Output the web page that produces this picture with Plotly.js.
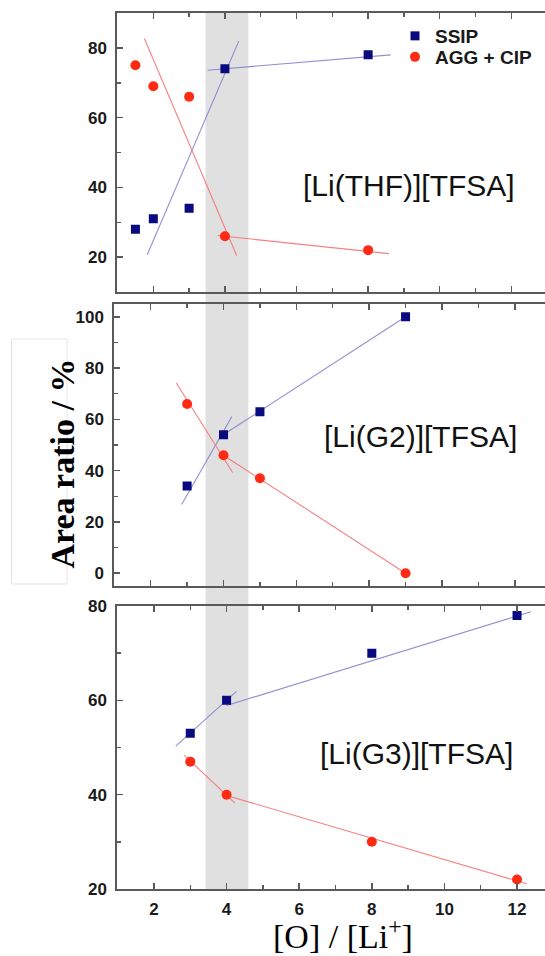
<!DOCTYPE html>
<html><head><meta charset="utf-8">
<script src="https://cdn.plot.ly/plotly-3.0.1.min.js"></script>
<style>html,body{margin:0;padding:0;background:#fff;}#chart{width:545px;height:956px;}</style>
</head><body><div id="chart"></div>
<script>
// ---- data ----
const thfX = [1.5, 2, 3, 4, 8];
const thfSSIP = [28, 31, 34, 74, 78];
const thfAGG = [75, 69, 66, 26, 22];
const g2X = [3, 4, 5, 9];
const g2SSIP = [34, 54, 63, 100];
const g2AGG = [66, 46, 37, 0];
const g3X = [3, 4, 8, 12];
const g3SSIP = [53, 60, 70, 78];
const g3AGG = [47, 40, 30, 22];
// fitted guide lines
const thfSsipFit1X = [1.83, 4.39], thfSsipFit1Y = [20.7, 82.0];
const thfSsipFit2X = [3.52, 8.63], thfSsipFit2Y = [73.6, 78.0];
const thfAggFit1X = [1.75, 4.33], thfAggFit1Y = [82.7, 20.4];
const thfAggFit2X = [3.80, 8.58], thfAggFit2Y = [26.2, 21.0];
const g2SsipFit1X = [2.85, 4.23], g2SsipFit1Y = [26.8, 61.1];
const g2SsipFit2X = [3.95, 9.0], g2SsipFit2Y = [53.6, 100];
const g2AggFit1X = [2.70, 4.25], g2AggFit1Y = [74.3, 39.3];
const g2AggFit2X = [3.90, 9.0], g2AggFit2Y = [46.9, 0];
const g3SsipFit1X = [2.60, 4.27], g3SsipFit1Y = [50.3, 61.9];
const g3SsipFit2X = [4.0, 12.38], g3SsipFit2Y = [58.9, 78.8];
const g3AggFit1X = [2.83, 4.23], g3AggFit1Y = [48.4, 38.2];
const g3AggFit2X = [3.88, 12.27], g3AggFit2Y = [40.1, 21.1];
const bandX = [3.42, 4.60];
const seriesNames = ['SSIP', 'AGG + CIP'];
const panelLabels = ['[Li(THF)][TFSA]', '[Li(G2)][TFSA]', '[Li(G3)][TFSA]'];

// ---- styling ----
const W = 545, H = 956;
const fx = p => p / W, fy = p => 1 - p / H;
const BLUE = '#0a0a80', RED = '#ff2a12';
const BLUEL = 'rgba(125,125,205,0.85)', REDL = 'rgba(245,115,115,0.9)';

function fit(x, y, xa, ya, c) {
  return {x, y, xaxis: xa, yaxis: ya, mode: 'lines', line: {color: c, width: 1.1}, showlegend: false, hoverinfo: 'skip'};
}
function pts(x, y, xa, ya, sym, c, name, leg) {
  const t = {x, y, xaxis: xa, yaxis: ya, mode: 'markers', name, showlegend: !!leg,
    marker: {symbol: sym, color: c, size: sym === 'square' ? 9 : 10, line: {width: 0}}};
  if (leg) t.legend = leg;
  return t;
}

const data = [
  fit(thfSsipFit1X, thfSsipFit1Y, 'x', 'y', BLUEL),
  fit(thfSsipFit2X, thfSsipFit2Y, 'x', 'y', BLUEL),
  fit(thfAggFit1X, thfAggFit1Y, 'x', 'y', REDL),
  fit(thfAggFit2X, thfAggFit2Y, 'x', 'y', REDL),
  fit(g2SsipFit1X, g2SsipFit1Y, 'x2', 'y2', BLUEL),
  fit(g2SsipFit2X, g2SsipFit2Y, 'x2', 'y2', BLUEL),
  fit(g2AggFit1X, g2AggFit1Y, 'x2', 'y2', REDL),
  fit(g2AggFit2X, g2AggFit2Y, 'x2', 'y2', REDL),
  fit(g3SsipFit1X, g3SsipFit1Y, 'x3', 'y3', BLUEL),
  fit(g3SsipFit2X, g3SsipFit2Y, 'x3', 'y3', BLUEL),
  fit(g3AggFit1X, g3AggFit1Y, 'x3', 'y3', REDL),
  fit(g3AggFit2X, g3AggFit2Y, 'x3', 'y3', REDL),
  pts(thfX, thfSSIP, 'x', 'y', 'square', BLUE, seriesNames[0], 'legend'),
  pts(thfX, thfAGG, 'x', 'y', 'circle', RED, seriesNames[1], 'legend2'),
  pts(g2X, g2SSIP, 'x2', 'y2', 'square', BLUE, seriesNames[0], null),
  pts(g2X, g2AGG, 'x2', 'y2', 'circle', RED, seriesNames[1], null),
  pts(g3X, g3SSIP, 'x3', 'y3', 'square', BLUE, seriesNames[0], null),
  pts(g3X, g3AGG, 'x3', 'y3', 'circle', RED, seriesNames[1], null),
];

const AX = '#5a5a5a';
const TF = {family: 'Arial, Liberation Sans, sans-serif', size: 17, color: '#1a1a1a', weight: 'bold'};
function xax(anchor, labels, left, range) {
  return {domain: [fx(left), 1], range, anchor, showgrid: false, zeroline: false,
    showline: true, linecolor: AX, linewidth: 2, mirror: 'ticks', ticks: 'inside', ticklen: 6, tickwidth: 1.5,
    tickcolor: AX, dtick: 2, tick0: 0, showticklabels: labels, tickfont: TF, ticklabelstandoff: 4,
    minor: {ticks: 'inside', ticklen: 4, tickwidth: 1.5, tickcolor: AX, dtick: 1, tick0: 0, showgrid: false}};
}
function yax(anchor, dom, range) {
  return {domain: dom, range, anchor, showgrid: false, zeroline: false,
    showline: true, linecolor: AX, linewidth: 2, mirror: false, ticks: 'inside', ticklen: 6, tickwidth: 1.5,
    tickcolor: AX, dtick: 20, tick0: 0, tickfont: TF, ticklabelstandoff: 5,
    minor: {ticks: 'inside', ticklen: 4, tickwidth: 1.5, tickcolor: AX, dtick: 10, tick0: 0, showgrid: false}};
}
const LEGF = {family: 'Arial, Liberation Sans, sans-serif', size: 19, color: '#1a1a1a', weight: 'bold'};
function leg(topPx) {
  return {x: fx(395), y: fy(topPx), xanchor: 'left', yanchor: 'top', bgcolor: 'rgba(0,0,0,0)',
    font: LEGF, itemwidth: 30};
}

const LBL = {family: 'Arial, Liberation Sans, sans-serif', size: 30, color: '#111'};
const layout = {
  width: W, height: H, margin: {l: 0, r: 0, t: 0, b: 0},
  paper_bgcolor: '#fff', plot_bgcolor: 'rgba(0,0,0,0)',
  xaxis: xax('y', false, 117.3, [0.994, 12.94]), yaxis: yax('x', [fy(292), fy(13)], [10, 90]),
  xaxis2: xax('y2', false, 114.3, [1.0, 12.83]), yaxis2: yax('x2', [fy(586), fy(304)], [-5, 105]),
  xaxis3: xax('y3', true, 117.3, [0.99, 12.77]), yaxis3: yax('x3', [fy(889), fy(606)], [20, 80]),
  showlegend: true,
  legend: leg(17), legend2: leg(38),
  shapes: [
    {type: 'rect', xref: 'x3', yref: 'paper', x0: bandX[0], x1: bandX[1], y0: fy(890), y1: fy(13),
     fillcolor: '#e0e0e0', line: {width: 0}, layer: 'below'},
    {type: 'rect', xref: 'paper', yref: 'paper', x0: fx(11.5), x1: fx(67), y0: fy(584), y1: fy(339),
     fillcolor: '#fff', line: {color: '#e4e4e4', width: 1}, layer: 'below'}
  ],
  annotations: [
    {xref: 'x', yref: 'y', x: 9.14, y: 40.5, text: panelLabels[0], showarrow: false, font: LBL},
    {xref: 'x2', yref: 'y2', x: 9.42, y: 53.3, text: panelLabels[1], showarrow: false, font: LBL},
    {xref: 'x3', yref: 'y3', x: 9.24, y: 48.8, text: panelLabels[2], showarrow: false, font: LBL},
    {xref: 'paper', yref: 'paper', x: fx(42), y: fy(464), text: 'Area ratio / %', textangle: -90, showarrow: false,
     font: {family: 'Liberation Serif, Times New Roman, serif', size: 34, color: '#000', weight: 'bold'}},
    {xref: 'paper', yref: 'paper', x: fx(343), y: fy(934), yanchor: 'middle', text: '[O] / [Li<sup>+</sup>]', showarrow: false,
     font: {family: 'Liberation Serif, Times New Roman, serif', size: 34, color: '#000'}}
  ]
};
Plotly.newPlot('chart', data, layout, {staticPlot: true, displayModeBar: false});
</script></body></html>
